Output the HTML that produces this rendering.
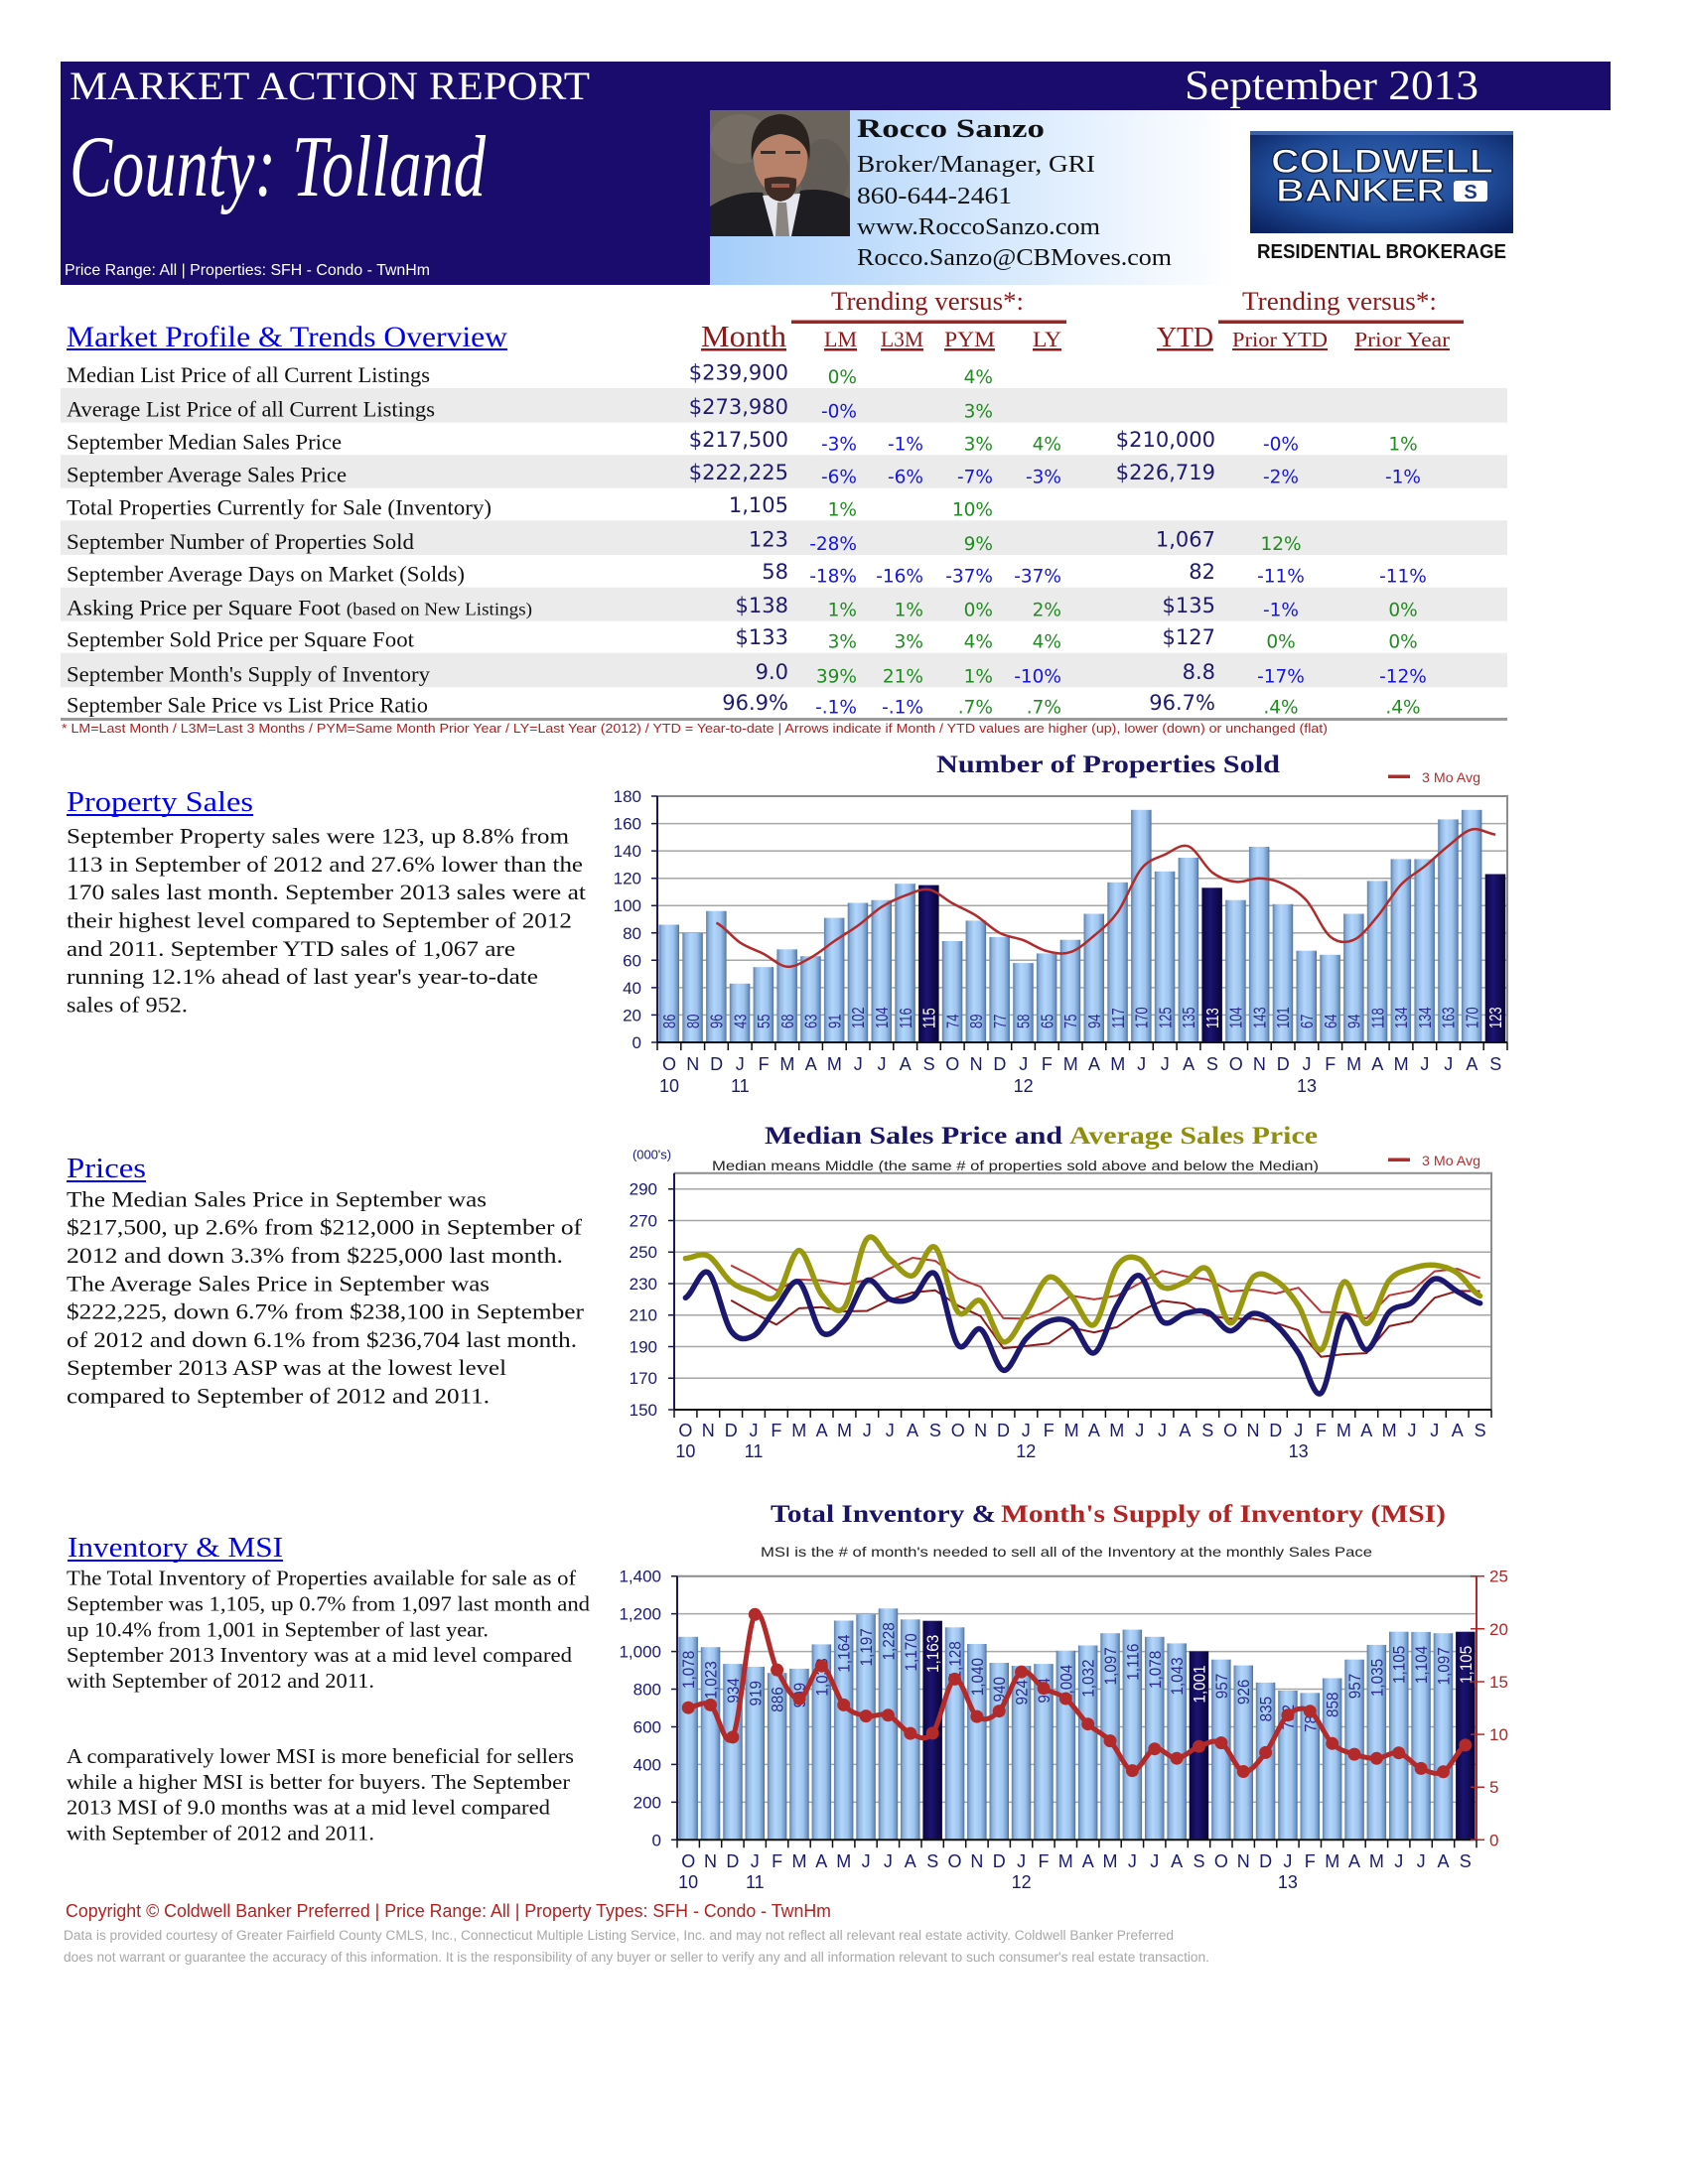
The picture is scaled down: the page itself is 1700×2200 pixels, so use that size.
<!DOCTYPE html>
<html><head><meta charset="utf-8"><title>Market Action Report - Tolland</title>
<style>
html,body{margin:0;padding:0;background:#fff;}
svg{display:block;}
.s{font-family:"Liberation Serif",serif;}
.a{font-family:"Liberation Sans",sans-serif;}
.d{font-family:"DejaVu Sans","Liberation Sans",sans-serif;}
</style></head>
<body>
<svg width="1700" height="2200" viewBox="0 0 1700 2200" xmlns="http://www.w3.org/2000/svg">
<defs>
<linearGradient id="bl" x1="0" x2="1" y1="0" y2="0">
<stop offset="0" stop-color="#5b7fa9"/><stop offset="0.15" stop-color="#8fb5e0"/><stop offset="0.4" stop-color="#b2d6fb"/><stop offset="0.7" stop-color="#9fc4ee"/><stop offset="0.9" stop-color="#7097c6"/><stop offset="1" stop-color="#4d6e98"/>
</linearGradient>
<linearGradient id="bd" x1="0" x2="1" y1="0" y2="0">
<stop offset="0" stop-color="#0a0640"/><stop offset="0.4" stop-color="#1c1474"/><stop offset="1" stop-color="#080434"/>
</linearGradient>
<linearGradient id="card" x1="715" x2="1245" y1="0" y2="0" gradientUnits="userSpaceOnUse">
<stop offset="0" stop-color="#a4cdfa"/><stop offset="1" stop-color="#ffffff"/>
</linearGradient>
<radialGradient id="cb" cx="0.5" cy="0.45" r="0.7">
<stop offset="0" stop-color="#3a6cba"/><stop offset="0.6" stop-color="#1f4a96"/><stop offset="1" stop-color="#0b2260"/>
</radialGradient>
<clipPath id="ph"><rect x="715" y="111" width="141" height="127"/></clipPath>
</defs>
<rect width="1700" height="2200" fill="#fff"/>

<!-- HEADER -->
<rect x="61" y="62" width="1561" height="49" fill="#1a0c6c"/>
<rect x="61" y="62" width="654" height="225" fill="#1a0c6c"/>
<rect x="715" y="111" width="530" height="176" fill="url(#card)"/>
<text class="s" x="70" y="100" font-size="40" fill="#fff" textLength="524" lengthAdjust="spacingAndGlyphs">MARKET ACTION REPORT</text>
<text class="s" x="1193" y="100" font-size="42" fill="#fff" textLength="296" lengthAdjust="spacingAndGlyphs">September 2013</text>
<text class="s" x="70" y="197" font-size="88" font-style="italic" fill="#fff" textLength="419" lengthAdjust="spacingAndGlyphs">County: Tolland</text>
<text class="a" x="65" y="277" font-size="16" fill="#fff" textLength="368" lengthAdjust="spacingAndGlyphs">Price Range:  All | Properties:  SFH - Condo - TwnHm</text>

<!-- photo -->
<g clip-path="url(#ph)">
<rect x="715" y="111" width="141" height="127" fill="#6b645c"/>
<ellipse cx="745" cy="140" rx="30" ry="25" fill="#7a7268" opacity="0.7"/>
<ellipse cx="830" cy="175" rx="25" ry="35" fill="#5d5852" opacity="0.7"/>
<path d="M715,238 L715,208 Q740,192 768,194 L784,238 Z" fill="#1d1d22"/>
<path d="M856,238 L856,200 Q832,188 806,192 L792,238 Z" fill="#1d1d22"/>
<rect x="774" y="185" width="24" height="18" fill="#a8735a"/>
<polygon points="768,197 806,195 797,238 779,238" fill="#e6e6ee"/>
<polygon points="783,204 792,204 795,238 781,238" fill="#8a8580"/>
<ellipse cx="786" cy="160" rx="27" ry="36" fill="#b8826a"/>
<path d="M757,162 Q753,117 786,115 Q820,117 815,162 Q812,138 786,135 Q762,138 757,162 Z" fill="#2a221e"/>
<path d="M770,180 Q786,176 802,180 Q804,200 786,203 Q768,200 770,180 Z" fill="#3e2c25"/>
<rect x="766" y="152" width="15" height="3" fill="#3a2a24"/>
<rect x="791" y="152" width="15" height="3" fill="#3a2a24"/>
<rect x="777" y="185" width="18" height="4" fill="#9a5a4a"/>
</g>

<text class="s" x="863" y="138" font-size="26" font-weight="bold" fill="#111" textLength="189" lengthAdjust="spacingAndGlyphs">Rocco Sanzo</text>
<text class="s" x="863" y="173" font-size="24" fill="#111" textLength="240" lengthAdjust="spacingAndGlyphs">Broker/Manager, GRI</text>
<text class="s" x="863" y="205" font-size="24" fill="#111" textLength="156" lengthAdjust="spacingAndGlyphs">860-644-2461</text>
<text class="s" x="863" y="236" font-size="24" fill="#111" textLength="245" lengthAdjust="spacingAndGlyphs">www.RoccoSanzo.com</text>
<text class="s" x="863" y="267" font-size="24" fill="#111" textLength="317" lengthAdjust="spacingAndGlyphs">Rocco.Sanzo@CBMoves.com</text>

<!-- logo -->
<rect x="1259" y="132" width="265" height="103" fill="url(#cb)"/>
<rect x="1259" y="132" width="265" height="4" fill="#5a84c8" opacity="0.6"/>
<text class="a" x="1280" y="174" font-size="34" font-weight="bold" fill="#fff" stroke="#0a1a40" stroke-width="1.2" textLength="224" lengthAdjust="spacingAndGlyphs">COLDWELL</text>
<text class="a" x="1285" y="203" font-size="32" font-weight="bold" fill="#fff" stroke="#0a1a40" stroke-width="1.2" textLength="170" lengthAdjust="spacingAndGlyphs">BANKER</text>
<rect x="1464" y="182" width="34" height="21" rx="3" fill="#fff"/>
<text class="a" x="1481" y="200" font-size="20" font-weight="bold" fill="#1a3a80" text-anchor="middle">S</text>
<text class="a" x="1266" y="260" font-size="20" font-weight="bold" fill="#111" textLength="251" lengthAdjust="spacingAndGlyphs">RESIDENTIAL BROKERAGE</text>

<!-- TABLE -->
<text class="s" x="837" y="312" font-size="26" fill="#8b1a1a" textLength="194" lengthAdjust="spacingAndGlyphs">Trending versus*:</text>
<text class="s" x="1251" y="312" font-size="26" fill="#8b1a1a" textLength="196" lengthAdjust="spacingAndGlyphs">Trending versus*:</text>
<rect x="797" y="322.5" width="277" height="3.5" fill="#9b2525"/>
<rect x="1227" y="322.5" width="247" height="3.5" fill="#9b2525"/>

<text class="s" x="67" y="349" font-size="30" fill="#0000ee" textLength="444" lengthAdjust="spacingAndGlyphs">Market Profile &amp; Trends Overview</text>
<rect x="67" y="351" width="444" height="2" fill="#0000ee"/>
<g class="s" fill="#8b1a1a">
<text x="706" y="349" font-size="31" textLength="86" lengthAdjust="spacingAndGlyphs">Month</text>
<text x="830" y="349" font-size="22" textLength="33" lengthAdjust="spacingAndGlyphs">LM</text>
<text x="887" y="349" font-size="22" textLength="43" lengthAdjust="spacingAndGlyphs">L3M</text>
<text x="951" y="349" font-size="22" textLength="51" lengthAdjust="spacingAndGlyphs">PYM</text>
<text x="1040" y="349" font-size="22" textLength="29" lengthAdjust="spacingAndGlyphs">LY</text>
<text x="1165" y="349" font-size="29" textLength="57" lengthAdjust="spacingAndGlyphs">YTD</text>
<text x="1241" y="349" font-size="21" textLength="96" lengthAdjust="spacingAndGlyphs">Prior YTD</text>
<text x="1364" y="349" font-size="21" textLength="96" lengthAdjust="spacingAndGlyphs">Prior Year</text>
</g>
<g fill="#8b1a1a">
<rect x="706" y="351" width="86" height="2.5"/>
<rect x="830" y="351" width="33" height="2.5"/>
<rect x="887" y="351" width="43" height="2.5"/>
<rect x="951" y="351" width="51" height="2.5"/>
<rect x="1040" y="351" width="29" height="2.5"/>
<rect x="1165" y="351" width="57" height="2.5"/>
<rect x="1241" y="351" width="96" height="2"/>
<rect x="1364" y="351" width="96" height="2"/>
</g>

<g fill="#ebebeb">
<rect x="61" y="391" width="1457" height="34.7"/>
<rect x="61" y="458.3" width="1457" height="33.4"/>
<rect x="61" y="524.3" width="1457" height="34.7"/>
<rect x="61" y="591.7" width="1457" height="34"/>
<rect x="61" y="657.7" width="1457" height="34.6"/>
</g>
<rect x="61" y="723" width="1457" height="3" fill="#9a9a9a"/>

<g class="s" font-size="22" fill="#111">
<text x="67" y="385" textLength="366" lengthAdjust="spacingAndGlyphs">Median List Price of all Current Listings</text>
<text x="67" y="419.7" textLength="371" lengthAdjust="spacingAndGlyphs">Average List Price of all Current Listings</text>
<text x="67" y="452.3" textLength="277" lengthAdjust="spacingAndGlyphs">September Median Sales Price</text>
<text x="67" y="485.7" textLength="282" lengthAdjust="spacingAndGlyphs">September Average Sales Price</text>
<text x="67" y="518.3" textLength="428" lengthAdjust="spacingAndGlyphs">Total Properties Currently for Sale (Inventory)</text>
<text x="67" y="553" textLength="350" lengthAdjust="spacingAndGlyphs">September Number of Properties Sold</text>
<text x="67" y="585.7" textLength="401" lengthAdjust="spacingAndGlyphs">September Average Days on Market (Solds)</text>
<text x="67" y="619.7" textLength="469" lengthAdjust="spacingAndGlyphs">Asking Price per Square Foot <tspan font-size="18">(based on New Listings)</tspan></text>
<text x="67" y="651.7" textLength="350" lengthAdjust="spacingAndGlyphs">September Sold Price per Square Foot</text>
<text x="67" y="686.3" textLength="366" lengthAdjust="spacingAndGlyphs">September Month's Supply of Inventory</text>
<text x="67" y="717.3" textLength="364" lengthAdjust="spacingAndGlyphs">September Sale Price vs List Price Ratio</text>
</g>

<g class="d" font-size="21" fill="#1e1a6e" text-anchor="end">
<text x="794" y="382.5">$239,900</text>
<text x="794" y="417.2">$273,980</text>
<text x="794" y="449.8">$217,500</text>
<text x="794" y="483.2">$222,225</text>
<text x="794" y="515.8">1,105</text>
<text x="794" y="550.5">123</text>
<text x="794" y="583.2">58</text>
<text x="794" y="617.2">$138</text>
<text x="794" y="649.2">$133</text>
<text x="794" y="683.8">9.0</text>
<text x="794" y="714.8">96.9%</text>
<text x="1224" y="449.8">$210,000</text>
<text x="1224" y="483.2">$226,719</text>
<text x="1224" y="550.5">1,067</text>
<text x="1224" y="583.2">82</text>
<text x="1224" y="617.2">$135</text>
<text x="1224" y="649.2">$127</text>
<text x="1224" y="683.8">8.8</text>
<text x="1224" y="714.8">96.7%</text>
</g>

<g class="d" font-size="18.5" text-anchor="end">
<text x="863" y="386" fill="#1f8c1f">0%</text>
<text x="863" y="420.7" fill="#1515e6">-0%</text>
<text x="863" y="453.3" fill="#1515e6">-3%</text>
<text x="863" y="486.7" fill="#1515e6">-6%</text>
<text x="863" y="519.3" fill="#1f8c1f">1%</text>
<text x="863" y="554" fill="#1515e6">-28%</text>
<text x="863" y="586.7" fill="#1515e6">-18%</text>
<text x="863" y="620.7" fill="#1f8c1f">1%</text>
<text x="863" y="652.7" fill="#1f8c1f">3%</text>
<text x="863" y="687.3" fill="#1f8c1f">39%</text>
<text x="863" y="718.3" fill="#1515e6">-.1%</text>
<text x="930" y="453.3" fill="#1515e6">-1%</text>
<text x="930" y="486.7" fill="#1515e6">-6%</text>
<text x="930" y="586.7" fill="#1515e6">-16%</text>
<text x="930" y="620.7" fill="#1f8c1f">1%</text>
<text x="930" y="652.7" fill="#1f8c1f">3%</text>
<text x="930" y="687.3" fill="#1f8c1f">21%</text>
<text x="930" y="718.3" fill="#1515e6">-.1%</text>
<text x="1000" y="386" fill="#1f8c1f">4%</text>
<text x="1000" y="420.7" fill="#1f8c1f">3%</text>
<text x="1000" y="453.3" fill="#1f8c1f">3%</text>
<text x="1000" y="486.7" fill="#1515e6">-7%</text>
<text x="1000" y="519.3" fill="#1f8c1f">10%</text>
<text x="1000" y="554" fill="#1f8c1f">9%</text>
<text x="1000" y="586.7" fill="#1515e6">-37%</text>
<text x="1000" y="620.7" fill="#1f8c1f">0%</text>
<text x="1000" y="652.7" fill="#1f8c1f">4%</text>
<text x="1000" y="687.3" fill="#1f8c1f">1%</text>
<text x="1000" y="718.3" fill="#1f8c1f">.7%</text>
<text x="1069" y="453.3" fill="#1f8c1f">4%</text>
<text x="1069" y="486.7" fill="#1515e6">-3%</text>
<text x="1069" y="586.7" fill="#1515e6">-37%</text>
<text x="1069" y="620.7" fill="#1f8c1f">2%</text>
<text x="1069" y="652.7" fill="#1f8c1f">4%</text>
<text x="1069" y="687.3" fill="#1515e6">-10%</text>
<text x="1069" y="718.3" fill="#1f8c1f">.7%</text>
</g>
<g class="d" font-size="18.5" text-anchor="middle">
<text x="1290" y="453.3" fill="#1515e6">-0%</text>
<text x="1290" y="486.7" fill="#1515e6">-2%</text>
<text x="1290" y="554" fill="#1f8c1f">12%</text>
<text x="1290" y="586.7" fill="#1515e6">-11%</text>
<text x="1290" y="620.7" fill="#1515e6">-1%</text>
<text x="1290" y="652.7" fill="#1f8c1f">0%</text>
<text x="1290" y="687.3" fill="#1515e6">-17%</text>
<text x="1290" y="718.3" fill="#1f8c1f">.4%</text>
<text x="1413" y="453.3" fill="#1f8c1f">1%</text>
<text x="1413" y="486.7" fill="#1515e6">-1%</text>
<text x="1413" y="586.7" fill="#1515e6">-11%</text>
<text x="1413" y="620.7" fill="#1f8c1f">0%</text>
<text x="1413" y="652.7" fill="#1f8c1f">0%</text>
<text x="1413" y="687.3" fill="#1515e6">-12%</text>
<text x="1413" y="718.3" fill="#1f8c1f">.4%</text>
</g>
<text class="a" x="62" y="738" font-size="13" fill="#b02020" textLength="1275" lengthAdjust="spacingAndGlyphs">* LM=Last Month / L3M=Last 3 Months / PYM=Same Month Prior Year / LY=Last Year (2012) / YTD = Year-to-date  |  Arrows indicate if Month / YTD values are higher (up), lower (down) or unchanged (flat)</text>

<!-- LEFT TEXT -->
<text class="s" x="67" y="817" font-size="28" fill="#0000ee" textLength="188" lengthAdjust="spacingAndGlyphs">Property Sales</text>
<rect x="67" y="820" width="188" height="2" fill="#0000ee"/>
<g class="s" font-size="22" fill="#111">
<text x="67" y="849.6" textLength="506" lengthAdjust="spacingAndGlyphs">September Property sales were 123, up 8.8% from</text>
<text x="67" y="877.9" textLength="520" lengthAdjust="spacingAndGlyphs">113 in September of 2012 and 27.6% lower than the</text>
<text x="67" y="906.2" textLength="523" lengthAdjust="spacingAndGlyphs">170 sales last month.  September 2013 sales were at</text>
<text x="67" y="934.5" textLength="509" lengthAdjust="spacingAndGlyphs">their highest level compared to September of 2012</text>
<text x="67" y="962.8" textLength="452" lengthAdjust="spacingAndGlyphs">and 2011.  September YTD sales of 1,067 are</text>
<text x="67" y="991.1" textLength="475" lengthAdjust="spacingAndGlyphs">running 12.1% ahead of last year's year-to-date</text>
<text x="67" y="1019.4" textLength="122" lengthAdjust="spacingAndGlyphs">sales of 952.</text>
</g>

<text class="s" x="67" y="1186" font-size="28" fill="#0000ee" textLength="80" lengthAdjust="spacingAndGlyphs">Prices</text>
<rect x="67" y="1189" width="80" height="2" fill="#0000ee"/>
<g class="s" font-size="22" fill="#111">
<text x="67" y="1215.4" textLength="423" lengthAdjust="spacingAndGlyphs">The Median Sales Price in September was</text>
<text x="67" y="1243.7" textLength="519" lengthAdjust="spacingAndGlyphs">$217,500, up 2.6% from $212,000 in September of</text>
<text x="67" y="1272" textLength="500" lengthAdjust="spacingAndGlyphs">2012  and down 3.3% from $225,000 last month.</text>
<text x="67" y="1300.3" textLength="426" lengthAdjust="spacingAndGlyphs">The Average Sales Price in September was</text>
<text x="67" y="1328.6" textLength="521" lengthAdjust="spacingAndGlyphs">$222,225, down 6.7% from $238,100 in September</text>
<text x="67" y="1356.9" textLength="514" lengthAdjust="spacingAndGlyphs">of 2012 and down 6.1% from $236,704 last month.</text>
<text x="67" y="1385.2" textLength="443" lengthAdjust="spacingAndGlyphs">September 2013 ASP was at the lowest level</text>
<text x="67" y="1413.5" textLength="426" lengthAdjust="spacingAndGlyphs">compared to September of 2012 and 2011.</text>
</g>

<text class="s" x="68" y="1568" font-size="28" fill="#0000ee" textLength="217" lengthAdjust="spacingAndGlyphs">Inventory &amp; MSI</text>
<rect x="68" y="1571" width="217" height="2" fill="#0000ee"/>
<g class="s" font-size="21" fill="#111">
<text x="67" y="1596.7" textLength="513" lengthAdjust="spacingAndGlyphs">The Total Inventory of Properties available for sale as of</text>
<text x="67" y="1622.5" textLength="527" lengthAdjust="spacingAndGlyphs">September was 1,105, up 0.7% from 1,097 last month and</text>
<text x="67" y="1648.3" textLength="425" lengthAdjust="spacingAndGlyphs">up 10.4% from 1,001 in September of last year.</text>
<text x="67" y="1674.1" textLength="509" lengthAdjust="spacingAndGlyphs">September 2013 Inventory was at a mid level compared</text>
<text x="67" y="1699.9" textLength="310" lengthAdjust="spacingAndGlyphs">with September of 2012 and 2011.</text>
<text x="67" y="1776" textLength="511" lengthAdjust="spacingAndGlyphs">A comparatively lower MSI is more beneficial for sellers</text>
<text x="67" y="1801.8" textLength="507" lengthAdjust="spacingAndGlyphs">while a higher MSI is better for buyers.  The September</text>
<text x="67" y="1827.6" textLength="487" lengthAdjust="spacingAndGlyphs">2013 MSI of 9.0 months was at a mid level compared</text>
<text x="67" y="1853.4" textLength="310" lengthAdjust="spacingAndGlyphs">with September of 2012 and 2011.</text>
</g>

<!-- FOOTER -->
<text class="a" x="66" y="1931" font-size="18" fill="#b52020" textLength="771" lengthAdjust="spacingAndGlyphs">Copyright © Coldwell Banker Preferred  |  Price Range:  All  |  Property Types:  SFH - Condo - TwnHm</text>
<text class="a" x="64" y="1954" font-size="13.5" fill="#a8a8a8" textLength="1118" lengthAdjust="spacingAndGlyphs">Data is provided courtesy of Greater Fairfield County CMLS, Inc., Connecticut Multiple Listing Service, Inc. and may not reflect all relevant real estate activity.  Coldwell Banker Preferred</text>
<text class="a" x="64" y="1976" font-size="13.5" fill="#a8a8a8" textLength="1154" lengthAdjust="spacingAndGlyphs">does not warrant or guarantee the accuracy of this information.  It is the responsibility of any buyer or seller to verify any and all information relevant to such consumer's real estate transaction.</text>

<!-- ===== CHART 1 ===== -->
<text class="s" x="943" y="778" font-size="25" font-weight="bold" fill="#1a1466" textLength="346" lengthAdjust="spacingAndGlyphs">Number of Properties Sold</text>
<rect x="1398" y="780.5" width="22" height="3.5" fill="#b22a2a"/>
<text class="a" x="1432" y="788" font-size="14" fill="#b03030" textLength="59" lengthAdjust="spacingAndGlyphs">3 Mo Avg</text>
<g stroke="#a6a6a6" stroke-width="1.5">
<line x1="662" y1="1022.4" x2="1518" y2="1022.4"/><line x1="662" y1="994.9" x2="1518" y2="994.9"/><line x1="662" y1="967.3" x2="1518" y2="967.3"/><line x1="662" y1="939.8" x2="1518" y2="939.8"/><line x1="662" y1="912.2" x2="1518" y2="912.2"/><line x1="662" y1="884.7" x2="1518" y2="884.7"/><line x1="662" y1="857.1" x2="1518" y2="857.1"/><line x1="662" y1="829.6" x2="1518" y2="829.6"/>
</g>
<path d="M662,802 H1518 V1050" fill="none" stroke="#8c8c8c" stroke-width="2"/>
<g fill="url(#bl)">
<rect x="663.5" y="931.5" width="20.5" height="118.5"/><rect x="687.3" y="939.8" width="20.5" height="110.2"/><rect x="711.1" y="917.7" width="20.5" height="132.3"/><rect x="734.8" y="990.8" width="20.5" height="59.2"/><rect x="758.6" y="974.2" width="20.5" height="75.8"/><rect x="782.4" y="956.3" width="20.5" height="93.7"/><rect x="806.2" y="963.2" width="20.5" height="86.8"/><rect x="829.9" y="924.6" width="20.5" height="125.4"/><rect x="853.7" y="909.5" width="20.5" height="140.5"/><rect x="877.5" y="906.7" width="20.5" height="143.3"/><rect x="901.3" y="890.2" width="20.5" height="159.8"/>
<rect x="948.8" y="948" width="20.5" height="102"/><rect x="972.6" y="927.4" width="20.5" height="122.6"/><rect x="996.4" y="943.9" width="20.5" height="106.1"/><rect x="1020.2" y="970.1" width="20.5" height="79.9"/><rect x="1043.9" y="960.4" width="20.5" height="89.6"/><rect x="1067.7" y="946.7" width="20.5" height="103.3"/><rect x="1091.5" y="920.5" width="20.5" height="129.5"/><rect x="1115.3" y="888.8" width="20.5" height="161.2"/><rect x="1139.1" y="815.8" width="20.5" height="234.2"/><rect x="1162.8" y="877.8" width="20.5" height="172.2"/><rect x="1186.6" y="864" width="20.5" height="186"/>
<rect x="1234.2" y="906.7" width="20.5" height="143.3"/><rect x="1257.9" y="853" width="20.5" height="197"/><rect x="1281.7" y="910.8" width="20.5" height="139.2"/><rect x="1305.5" y="957.7" width="20.5" height="92.3"/><rect x="1329.3" y="961.8" width="20.5" height="88.2"/><rect x="1353.1" y="920.5" width="20.5" height="129.5"/><rect x="1376.8" y="887.4" width="20.5" height="162.6"/><rect x="1400.6" y="865.4" width="20.5" height="184.6"/><rect x="1424.4" y="865.4" width="20.5" height="184.6"/><rect x="1448.2" y="825.4" width="20.5" height="224.6"/><rect x="1471.9" y="815.8" width="20.5" height="234.2"/>
</g>
<g fill="url(#bd)">
<rect x="925.1" y="891.6" width="20.5" height="158.4"/><rect x="1210.4" y="894.3" width="20.5" height="155.7"/><rect x="1495.7" y="880.5" width="20.5" height="169.5"/>
</g>
<g class="a" font-size="18" fill="#2a2a8a">
<text transform="translate(680,1036) rotate(-90) scale(0.72,1)">86</text>
<text transform="translate(703.8,1036) rotate(-90) scale(0.72,1)">80</text>
<text transform="translate(727.6,1036) rotate(-90) scale(0.72,1)">96</text>
<text transform="translate(751.3,1036) rotate(-90) scale(0.72,1)">43</text>
<text transform="translate(775.1,1036) rotate(-90) scale(0.72,1)">55</text>
<text transform="translate(798.9,1036) rotate(-90) scale(0.72,1)">68</text>
<text transform="translate(822.7,1036) rotate(-90) scale(0.72,1)">63</text>
<text transform="translate(846.4,1036) rotate(-90) scale(0.72,1)">91</text>
<text transform="translate(870.2,1036) rotate(-90) scale(0.72,1)">102</text>
<text transform="translate(894,1036) rotate(-90) scale(0.72,1)">104</text>
<text transform="translate(917.8,1036) rotate(-90) scale(0.72,1)">116</text>
<text transform="translate(941.6,1036) rotate(-90) scale(0.72,1)" fill="#fff">115</text>
<text transform="translate(965.3,1036) rotate(-90) scale(0.72,1)">74</text>
<text transform="translate(989.1,1036) rotate(-90) scale(0.72,1)">89</text>
<text transform="translate(1012.9,1036) rotate(-90) scale(0.72,1)">77</text>
<text transform="translate(1036.7,1036) rotate(-90) scale(0.72,1)">58</text>
<text transform="translate(1060.4,1036) rotate(-90) scale(0.72,1)">65</text>
<text transform="translate(1084.2,1036) rotate(-90) scale(0.72,1)">75</text>
<text transform="translate(1108,1036) rotate(-90) scale(0.72,1)">94</text>
<text transform="translate(1131.8,1036) rotate(-90) scale(0.72,1)">117</text>
<text transform="translate(1155.6,1036) rotate(-90) scale(0.72,1)">170</text>
<text transform="translate(1179.3,1036) rotate(-90) scale(0.72,1)">125</text>
<text transform="translate(1203.1,1036) rotate(-90) scale(0.72,1)">135</text>
<text transform="translate(1226.9,1036) rotate(-90) scale(0.72,1)" fill="#fff">113</text>
<text transform="translate(1250.7,1036) rotate(-90) scale(0.72,1)">104</text>
<text transform="translate(1274.4,1036) rotate(-90) scale(0.72,1)">143</text>
<text transform="translate(1298.2,1036) rotate(-90) scale(0.72,1)">101</text>
<text transform="translate(1322,1036) rotate(-90) scale(0.72,1)">67</text>
<text transform="translate(1345.8,1036) rotate(-90) scale(0.72,1)">64</text>
<text transform="translate(1369.6,1036) rotate(-90) scale(0.72,1)">94</text>
<text transform="translate(1393.3,1036) rotate(-90) scale(0.72,1)">118</text>
<text transform="translate(1417.1,1036) rotate(-90) scale(0.72,1)">134</text>
<text transform="translate(1440.9,1036) rotate(-90) scale(0.72,1)">134</text>
<text transform="translate(1464.7,1036) rotate(-90) scale(0.72,1)">163</text>
<text transform="translate(1488.4,1036) rotate(-90) scale(0.72,1)">170</text>
<text transform="translate(1512.2,1036) rotate(-90) scale(0.72,1)" fill="#fff">123</text>
</g>
<path d="M721.4,929.7 C729.3,933.0 737.3,944.2 745.2,949.4 C753.1,954.6 761.1,956.8 769.0,960.9 C776.9,965.0 784.9,973.2 792.8,973.8 C800.7,974.4 808.7,968.9 816.6,964.6 C824.5,960.3 832.4,953.4 840.3,948.0 C848.2,942.6 856.2,938.1 864.1,932.4 C872.0,926.7 880.0,918.7 887.9,913.6 C895.8,908.6 903.8,905.0 911.7,902.1 C919.6,899.2 927.6,894.8 935.5,896.1 C943.4,897.4 951.3,905.5 959.2,909.9 C967.1,914.3 975.1,917.3 983.0,922.3 C990.9,927.3 998.9,935.7 1006.8,939.8 C1014.7,943.9 1022.7,944.1 1030.6,947.1 C1038.5,950.2 1046.4,956.1 1054.3,958.1 C1062.2,960.1 1070.2,961.7 1078.1,959.1 C1086.0,956.5 1094.0,949.2 1101.9,942.5 C1109.8,935.8 1117.8,930.0 1125.7,918.7 C1133.6,907.5 1141.6,884.7 1149.5,875.0 C1157.4,865.4 1165.3,864.6 1173.2,860.8 C1181.1,857.1 1189.1,849.5 1197.0,852.5 C1204.9,855.5 1212.9,872.7 1220.8,878.7 C1228.7,884.7 1236.7,887.3 1244.6,888.3 C1252.5,889.3 1260.4,884.4 1268.3,884.7 C1276.2,885.0 1284.2,886.5 1292.1,890.2 C1300.0,894.0 1308.0,898.3 1315.9,907.2 C1323.8,916.1 1331.8,936.9 1339.7,943.5 C1347.6,950.1 1355.6,950.1 1363.5,946.7 C1371.4,943.3 1379.3,932.5 1387.2,923.2 C1395.1,913.9 1403.1,899.5 1411.0,891.1 C1418.9,882.7 1426.9,879.2 1434.8,872.7 C1442.7,866.2 1450.7,858.3 1458.6,852.1 C1466.5,845.9 1474.4,837.4 1482.3,835.5 C1490.2,833.6 1498.2,839.8 1506.1,840.6" fill="none" stroke="#b22a2a" stroke-width="2.5"/>
<line x1="662" y1="802" x2="662" y2="1050" stroke="#1a1a50" stroke-width="2"/>
<line x1="662" y1="1050" x2="1518" y2="1050" stroke="#111" stroke-width="2"/>
<path d="M656,802h6M656,829.6h6M656,857.1h6M656,884.7h6M656,912.2h6M656,939.8h6M656,967.3h6M656,994.9h6M656,1022.4h6M656,1050h6" stroke="#1a1a50" stroke-width="1.5"/>
<path d="M662,1050v8M685.8,1050v8M709.6,1050v8M733.3,1050v8M757.1,1050v8M780.9,1050v8M804.7,1050v8M828.4,1050v8M852.2,1050v8M876,1050v8M899.8,1050v8M923.6,1050v8M947.3,1050v8M971.1,1050v8M994.9,1050v8M1018.7,1050v8M1042.4,1050v8M1066.2,1050v8M1090,1050v8M1113.8,1050v8M1137.6,1050v8M1161.3,1050v8M1185.1,1050v8M1208.9,1050v8M1232.7,1050v8M1256.5,1050v8M1280.2,1050v8M1304,1050v8M1327.8,1050v8M1351.6,1050v8M1375.3,1050v8M1399.1,1050v8M1422.9,1050v8M1446.7,1050v8M1470.5,1050v8M1494.2,1050v8M1518,1050v8" stroke="#111" stroke-width="1.5"/>
<g class="a" font-size="17" fill="#1a1a6e" text-anchor="end">
<text x="646" y="808">180</text><text x="646" y="835.6">160</text><text x="646" y="863.1">140</text><text x="646" y="890.7">120</text><text x="646" y="918.2">100</text><text x="646" y="945.8">80</text><text x="646" y="973.3">60</text><text x="646" y="1000.9">40</text><text x="646" y="1028.4">20</text><text x="646" y="1056">0</text>
</g>
<g class="a" font-size="18" fill="#1a1a6e" text-anchor="middle">
<text x="674.0 697.8 721.6 745.3 769.1 792.9 816.7 840.4 864.2 888.0 911.8 935.6 959.3 983.1 1006.9 1030.7 1054.4 1078.2 1102.0 1125.8 1149.6 1173.3 1197.1 1220.9 1244.7 1268.4 1292.2 1316.0 1339.8 1363.6 1387.3 1411.1 1434.9 1458.7 1482.4 1506.2" y="1078">ONDJFMAMJJASONDJFMAMJJASONDJFMAMJJAS</text>
<text x="674" y="1100">10</text><text x="745.3" y="1100">11</text><text x="1030.7" y="1100">12</text><text x="1316" y="1100">13</text>
</g>

<!-- ===== CHART 2 ===== -->
<text class="s" x="770" y="1152" font-size="25" font-weight="bold" fill="#1a1466" textLength="300" lengthAdjust="spacingAndGlyphs">Median Sales Price and</text>
<text class="s" x="1077" y="1152" font-size="25" font-weight="bold" fill="#8f8f0c" textLength="250" lengthAdjust="spacingAndGlyphs">Average Sales Price</text>
<text class="a" x="637" y="1167.7" font-size="13" fill="#1a1a6e" textLength="39" lengthAdjust="spacingAndGlyphs">(000's)</text>
<text class="a" x="717" y="1179" font-size="14" fill="#222" textLength="611" lengthAdjust="spacingAndGlyphs">Median means Middle (the same # of properties sold above and below the Median)</text>
<rect x="1398" y="1166.5" width="22" height="3.5" fill="#b22a2a"/>
<text class="a" x="1432" y="1174" font-size="14" fill="#b03030" textLength="59" lengthAdjust="spacingAndGlyphs">3 Mo Avg</text>
<g stroke="#a6a6a6" stroke-width="1.5">
<line x1="679" y1="1197.7" x2="1502" y2="1197.7"/><line x1="679" y1="1229.5" x2="1502" y2="1229.5"/><line x1="679" y1="1261.2" x2="1502" y2="1261.2"/><line x1="679" y1="1293" x2="1502" y2="1293"/><line x1="679" y1="1324.7" x2="1502" y2="1324.7"/><line x1="679" y1="1356.5" x2="1502" y2="1356.5"/><line x1="679" y1="1388.2" x2="1502" y2="1388.2"/>
</g>
<path d="M679,1181.8 H1502 V1420" fill="none" stroke="#8c8c8c" stroke-width="2"/>
<polyline points="736.2,1274.7 759.0,1286.1 781.9,1299.6 804.7,1289.0 827.6,1289.8 850.5,1293.5 873.3,1289.5 896.2,1277.6 919.0,1267.0 941.9,1270.0 964.8,1287.7 987.6,1296.2 1010.5,1327.9 1033.3,1328.4 1056.2,1320.5 1079.1,1305.1 1101.9,1308.9 1124.8,1305.2 1147.7,1292.7 1170.5,1280.2 1193.4,1285.5 1216.2,1288.9 1239.1,1300.9 1262.0,1299.3 1284.8,1303.0 1307.7,1297.2 1330.5,1321.6 1353.4,1322.1 1376.3,1328.1 1399.1,1304.8 1422.0,1300.3 1444.8,1280.6 1467.7,1278.1 1490.6,1287.4" fill="none" stroke="#bb3636" stroke-width="2" stroke-linejoin="round"/>
<polyline points="736.2,1309.9 759.0,1322.6 781.9,1334.3 804.7,1317.9 827.6,1316.8 850.5,1321.0 873.3,1320.5 896.2,1309.4 919.0,1302.0 941.9,1299.8 964.8,1315.2 987.6,1325.8 1010.5,1358.1 1033.3,1355.9 1056.2,1353.3 1079.1,1337.4 1101.9,1342.2 1124.8,1336.9 1147.7,1321.0 1170.5,1310.4 1193.4,1313.1 1216.2,1325.3 1239.1,1328.4 1262.0,1328.4 1284.8,1332.7 1307.7,1340.1 1330.5,1366.8 1353.4,1364.1 1376.3,1363.1 1399.1,1335.9 1422.0,1331.1 1444.8,1307.3 1467.7,1300.4 1490.6,1300.6" fill="none" stroke="#8b1a1a" stroke-width="2" stroke-linejoin="round"/>
<path d="M690.4,1267.6 C698.0,1267.2 705.7,1261.2 713.3,1265.2 C720.9,1269.2 728.6,1285.3 736.2,1291.4 C743.8,1297.5 751.4,1299.3 759.0,1301.7 C766.6,1304.1 774.3,1312.7 781.9,1305.7 C789.5,1298.7 797.1,1259.9 804.7,1259.6 C812.3,1259.3 820.0,1294.6 827.6,1304.1 C835.2,1313.6 842.9,1326.2 850.5,1316.8 C858.1,1307.4 865.7,1255.8 873.3,1247.7 C880.9,1239.6 888.6,1262.2 896.2,1268.4 C903.8,1274.6 911.4,1287.0 919.0,1285.0 C926.6,1283.0 934.3,1250.4 941.9,1256.5 C949.5,1262.6 957.2,1312.6 964.8,1321.6 C972.4,1330.6 980.0,1305.4 987.6,1310.4 C995.2,1315.4 1002.9,1349.6 1010.5,1351.7 C1018.1,1353.8 1025.7,1334.0 1033.3,1323.1 C1040.9,1312.3 1048.6,1289.5 1056.2,1286.6 C1063.8,1283.7 1071.5,1297.8 1079.1,1305.7 C1086.7,1313.7 1094.3,1339.3 1101.9,1334.3 C1109.5,1329.3 1117.2,1286.5 1124.8,1275.5 C1132.4,1264.5 1140.1,1264.9 1147.7,1268.4 C1155.3,1271.9 1162.9,1292.8 1170.5,1296.6 C1178.1,1300.4 1185.8,1294.4 1193.4,1291.4 C1201.0,1288.4 1208.6,1271.8 1216.2,1278.7 C1223.8,1285.6 1231.5,1331.4 1239.1,1332.7 C1246.7,1334.0 1254.4,1293.8 1262.0,1286.6 C1269.6,1279.5 1277.2,1285.0 1284.8,1289.8 C1292.4,1294.6 1300.1,1303.6 1307.7,1315.2 C1315.3,1326.9 1322.9,1363.7 1330.5,1359.7 C1338.1,1355.7 1345.8,1295.8 1353.4,1291.4 C1361.0,1287.0 1368.7,1333.6 1376.3,1333.3 C1383.9,1333.0 1391.5,1299.1 1399.1,1289.8 C1406.7,1280.5 1414.4,1280.3 1422.0,1277.7 C1429.6,1275.1 1437.2,1273.6 1444.8,1274.4 C1452.4,1275.2 1460.1,1277.1 1467.7,1282.3 C1475.3,1287.5 1483.0,1301.6 1490.6,1305.4" fill="none" stroke="#999910" stroke-width="5.5" stroke-linecap="round"/>
<path d="M690.4,1307.3 C698.0,1303.1 705.7,1276.4 713.3,1281.9 C720.9,1287.5 728.6,1330.0 736.2,1340.6 C743.8,1351.2 751.4,1349.4 759.0,1345.4 C766.6,1341.4 774.3,1325.8 781.9,1316.8 C789.5,1307.8 797.1,1287.2 804.7,1291.4 C812.3,1295.6 820.0,1335.9 827.6,1342.2 C835.2,1348.6 842.9,1338.2 850.5,1329.5 C858.1,1320.8 865.7,1293.3 873.3,1289.8 C880.9,1286.4 888.6,1305.9 896.2,1308.8 C903.8,1311.7 911.4,1311.5 919.0,1307.3 C926.6,1303.1 934.3,1275.5 941.9,1283.4 C949.5,1291.3 957.2,1345.6 964.8,1354.9 C972.4,1364.2 980.0,1334.8 987.6,1339.0 C995.2,1343.2 1002.9,1378.7 1010.5,1380.3 C1018.1,1381.9 1025.7,1356.7 1033.3,1348.5 C1040.9,1340.3 1048.6,1333.7 1056.2,1331.1 C1063.8,1328.5 1071.5,1327.4 1079.1,1332.7 C1086.7,1338.0 1094.3,1365.7 1101.9,1362.8 C1109.5,1359.9 1117.2,1328.2 1124.8,1315.2 C1132.4,1302.2 1140.1,1282.4 1147.7,1285.0 C1155.3,1287.7 1162.9,1324.8 1170.5,1331.1 C1178.1,1337.5 1185.8,1324.7 1193.4,1323.1 C1201.0,1321.5 1208.6,1318.7 1216.2,1321.6 C1223.8,1324.5 1231.5,1340.4 1239.1,1340.6 C1246.7,1340.9 1254.4,1324.2 1262.0,1323.1 C1269.6,1322.1 1277.2,1327.7 1284.8,1334.3 C1292.4,1340.9 1300.1,1351.3 1307.7,1362.8 C1315.3,1374.3 1322.9,1409.4 1330.5,1403.3 C1338.1,1397.2 1345.8,1333.6 1353.4,1326.3 C1361.0,1319.0 1368.7,1360.5 1376.3,1359.7 C1383.9,1358.9 1391.5,1329.6 1399.1,1321.6 C1406.7,1313.7 1414.4,1317.6 1422.0,1312.0 C1429.6,1306.4 1437.2,1290.1 1444.8,1288.2 C1452.4,1286.4 1460.1,1296.8 1467.7,1300.9 C1475.3,1305.0 1483.0,1310.8 1490.6,1312.8" fill="none" stroke="#1c1870" stroke-width="5.5" stroke-linecap="round"/>
<line x1="679" y1="1181.8" x2="679" y2="1420" stroke="#1a1a50" stroke-width="2"/>
<line x1="679" y1="1420" x2="1502" y2="1420" stroke="#111" stroke-width="2"/>
<path d="M673,1197.7h6M673,1229.5h6M673,1261.2h6M673,1293h6M673,1324.7h6M673,1356.5h6M673,1388.2h6M673,1420h6" stroke="#1a1a50" stroke-width="1.5"/>
<path d="M679,1420v8M701.9,1420v8M724.7,1420v8M747.6,1420v8M770.4,1420v8M793.3,1420v8M816.2,1420v8M839,1420v8M861.9,1420v8M884.7,1420v8M907.6,1420v8M930.5,1420v8M953.3,1420v8M976.2,1420v8M999.1,1420v8M1021.9,1420v8M1044.8,1420v8M1067.6,1420v8M1090.5,1420v8M1113.4,1420v8M1136.2,1420v8M1159.1,1420v8M1181.9,1420v8M1204.8,1420v8M1227.7,1420v8M1250.5,1420v8M1273.4,1420v8M1296.3,1420v8M1319.1,1420v8M1342,1420v8M1364.8,1420v8M1387.7,1420v8M1410.6,1420v8M1433.4,1420v8M1456.3,1420v8M1479.1,1420v8M1502,1420v8" stroke="#111" stroke-width="1.5"/>
<g class="a" font-size="17" fill="#1a1a6e" text-anchor="end">
<text x="662" y="1203.7">290</text><text x="662" y="1235.5">270</text><text x="662" y="1267.2">250</text><text x="662" y="1299">230</text><text x="662" y="1330.7">210</text><text x="662" y="1362.5">190</text><text x="662" y="1394.2">170</text><text x="662" y="1426">150</text>
</g>
<g class="a" font-size="18" fill="#1a1a6e" text-anchor="middle">
<text x="690.4 713.3 736.2 759.0 781.9 804.7 827.6 850.5 873.3 896.2 919.0 941.9 964.8 987.6 1010.5 1033.3 1056.2 1079.1 1101.9 1124.8 1147.7 1170.5 1193.4 1216.2 1239.1 1262.0 1284.8 1307.7 1330.5 1353.4 1376.3 1399.1 1422.0 1444.8 1467.7 1490.6" y="1447">ONDJFMAMJJASONDJFMAMJJASONDJFMAMJJAS</text>
<text x="690.4" y="1468">10</text><text x="759" y="1468">11</text><text x="1033.3" y="1468">12</text><text x="1307.7" y="1468">13</text>
</g>

<!-- ===== CHART 3 ===== -->
<text class="s" x="776" y="1533" font-size="25" font-weight="bold" fill="#1a1466" textLength="227" lengthAdjust="spacingAndGlyphs">Total Inventory &amp;</text>
<text class="s" x="1008" y="1533" font-size="25" font-weight="bold" fill="#b22424" textLength="448" lengthAdjust="spacingAndGlyphs">Month's Supply of Inventory (MSI)</text>
<text class="a" x="766" y="1568" font-size="14" fill="#222" textLength="616" lengthAdjust="spacingAndGlyphs">MSI is the # of month's needed to sell all of the Inventory at the monthly Sales Pace</text>
<g stroke="#a6a6a6" stroke-width="1.5">
<line x1="682" y1="1815.4" x2="1487" y2="1815.4"/><line x1="682" y1="1777.4" x2="1487" y2="1777.4"/><line x1="682" y1="1739.5" x2="1487" y2="1739.5"/><line x1="682" y1="1701.5" x2="1487" y2="1701.5"/><line x1="682" y1="1663.6" x2="1487" y2="1663.6"/><line x1="682" y1="1625.6" x2="1487" y2="1625.6"/>
</g>
<line x1="682" y1="1587.7" x2="1487" y2="1587.7" stroke="#8c8c8c" stroke-width="2"/>
<g fill="url(#bl)">
<rect x="683.4" y="1648.8" width="19.5" height="204.5"/><rect x="705.8" y="1659.2" width="19.5" height="194.1"/><rect x="728.2" y="1676.1" width="19.5" height="177.2"/><rect x="750.5" y="1679" width="19.5" height="174.3"/><rect x="772.9" y="1685.2" width="19.5" height="168.1"/><rect x="795.2" y="1680.9" width="19.5" height="172.4"/><rect x="817.6" y="1656.4" width="19.5" height="196.9"/><rect x="839.9" y="1632.5" width="19.5" height="220.8"/><rect x="862.3" y="1626.2" width="19.5" height="227.1"/><rect x="884.7" y="1620.3" width="19.5" height="233"/><rect x="907" y="1631.3" width="19.5" height="222"/>
<rect x="951.8" y="1639.3" width="19.5" height="214"/><rect x="974.1" y="1656" width="19.5" height="197.3"/><rect x="996.5" y="1675" width="19.5" height="178.3"/><rect x="1018.8" y="1678" width="19.5" height="175.3"/><rect x="1041.2" y="1676.1" width="19.5" height="177.2"/><rect x="1063.6" y="1662.8" width="19.5" height="190.5"/><rect x="1085.9" y="1657.5" width="19.5" height="195.8"/><rect x="1108.3" y="1645.2" width="19.5" height="208.1"/><rect x="1130.6" y="1641.6" width="19.5" height="211.7"/><rect x="1153" y="1648.8" width="19.5" height="204.5"/><rect x="1175.4" y="1655.4" width="19.5" height="197.9"/>
<rect x="1220.1" y="1671.7" width="19.5" height="181.6"/><rect x="1242.5" y="1677.6" width="19.5" height="175.7"/><rect x="1264.8" y="1694.9" width="19.5" height="158.4"/><rect x="1287.2" y="1703" width="19.5" height="150.3"/><rect x="1309.5" y="1705.3" width="19.5" height="148"/><rect x="1331.9" y="1690.5" width="19.5" height="162.8"/><rect x="1354.3" y="1671.7" width="19.5" height="181.6"/><rect x="1376.6" y="1656.9" width="19.5" height="196.4"/><rect x="1399" y="1643.7" width="19.5" height="209.6"/><rect x="1421.3" y="1643.9" width="19.5" height="209.4"/><rect x="1443.7" y="1645.2" width="19.5" height="208.1"/>
</g>
<g fill="url(#bd)">
<rect x="929.4" y="1632.7" width="19.5" height="220.6"/><rect x="1197.7" y="1663.4" width="19.5" height="189.9"/><rect x="1466.1" y="1643.7" width="19.5" height="209.6"/>
</g>
<g class="a" font-size="17" fill="#2a2a8a" text-anchor="end">
<text transform="translate(699.2,1662.8) rotate(-90) scale(0.9,1)">1,078</text>
<text transform="translate(721.5,1673.2) rotate(-90) scale(0.9,1)">1,023</text>
<text transform="translate(743.9,1690.1) rotate(-90) scale(0.9,1)">934</text>
<text transform="translate(766.3,1693) rotate(-90) scale(0.9,1)">919</text>
<text transform="translate(788.6,1699.2) rotate(-90) scale(0.9,1)">886</text>
<text transform="translate(811,1694.9) rotate(-90) scale(0.9,1)">909</text>
<text transform="translate(833.3,1670.4) rotate(-90) scale(0.9,1)">1,038</text>
<text transform="translate(855.7,1646.5) rotate(-90) scale(0.9,1)">1,164</text>
<text transform="translate(878.1,1640.2) rotate(-90) scale(0.9,1)">1,197</text>
<text transform="translate(900.4,1634.3) rotate(-90) scale(0.9,1)">1,228</text>
<text transform="translate(922.8,1645.3) rotate(-90) scale(0.9,1)">1,170</text>
<text transform="translate(945.2,1646.7) rotate(-90) scale(0.9,1)" fill="#fff">1,163</text>
<text transform="translate(967.5,1653.3) rotate(-90) scale(0.9,1)">1,128</text>
<text transform="translate(989.9,1670) rotate(-90) scale(0.9,1)">1,040</text>
<text transform="translate(1012.2,1689) rotate(-90) scale(0.9,1)">940</text>
<text transform="translate(1034.6,1692) rotate(-90) scale(0.9,1)">924</text>
<text transform="translate(1057,1690.1) rotate(-90) scale(0.9,1)">934</text>
<text transform="translate(1079.3,1676.8) rotate(-90) scale(0.9,1)">1,004</text>
<text transform="translate(1101.7,1671.5) rotate(-90) scale(0.9,1)">1,032</text>
<text transform="translate(1124,1659.2) rotate(-90) scale(0.9,1)">1,097</text>
<text transform="translate(1146.4,1655.6) rotate(-90) scale(0.9,1)">1,116</text>
<text transform="translate(1168.8,1662.8) rotate(-90) scale(0.9,1)">1,078</text>
<text transform="translate(1191.1,1669.4) rotate(-90) scale(0.9,1)">1,043</text>
<text transform="translate(1213.5,1677.4) rotate(-90) scale(0.9,1)" fill="#fff">1,001</text>
<text transform="translate(1235.9,1685.7) rotate(-90) scale(0.9,1)">957</text>
<text transform="translate(1258.2,1691.6) rotate(-90) scale(0.9,1)">926</text>
<text transform="translate(1280.6,1708.9) rotate(-90) scale(0.9,1)">835</text>
<text transform="translate(1302.9,1717) rotate(-90) scale(0.9,1)">792</text>
<text transform="translate(1325.3,1719.3) rotate(-90) scale(0.9,1)">780</text>
<text transform="translate(1347.7,1704.5) rotate(-90) scale(0.9,1)">858</text>
<text transform="translate(1370,1685.7) rotate(-90) scale(0.9,1)">957</text>
<text transform="translate(1392.4,1670.9) rotate(-90) scale(0.9,1)">1,035</text>
<text transform="translate(1414.7,1657.7) rotate(-90) scale(0.9,1)">1,105</text>
<text transform="translate(1437.1,1657.9) rotate(-90) scale(0.9,1)">1,104</text>
<text transform="translate(1459.5,1659.2) rotate(-90) scale(0.9,1)">1,097</text>
<text transform="translate(1481.8,1657.7) rotate(-90) scale(0.9,1)" fill="#fff">1,105</text>
</g>
<path d="M693.2,1720.2 C700.7,1719.7 708.1,1712.5 715.5,1717.4 C723.0,1722.4 730.5,1765.1 737.9,1749.9 C745.4,1734.7 752.9,1637.6 760.3,1626.3 C767.8,1615.0 775.2,1667.9 782.6,1682.1 C790.1,1696.3 797.6,1712.0 805.0,1711.3 C812.5,1710.7 819.9,1677.2 827.3,1678.2 C834.8,1679.2 842.3,1709.0 849.7,1717.4 C857.2,1725.8 864.7,1726.9 872.1,1728.6 C879.5,1730.3 887.0,1724.9 894.4,1727.8 C901.9,1730.7 909.4,1743.1 916.8,1746.1 C924.3,1749.1 931.7,1755.0 939.2,1745.9 C946.7,1736.8 954.1,1694.2 961.5,1691.4 C969.0,1688.6 976.5,1723.7 983.9,1729.1 C991.4,1734.5 998.8,1731.1 1006.2,1723.6 C1013.7,1716.1 1021.2,1687.9 1028.6,1684.1 C1036.1,1680.3 1043.6,1696.1 1051.0,1700.6 C1058.5,1705.1 1065.9,1705.0 1073.3,1711.0 C1080.8,1717.0 1088.3,1729.6 1095.7,1736.7 C1103.2,1743.8 1110.6,1745.8 1118.0,1753.6 C1125.5,1761.4 1133.0,1782.3 1140.4,1783.6 C1147.9,1785.0 1155.4,1763.8 1162.8,1761.7 C1170.3,1759.6 1177.7,1771.6 1185.1,1771.2 C1192.6,1770.8 1200.1,1761.8 1207.5,1759.2 C1215.0,1756.6 1222.4,1751.4 1229.9,1755.6 C1237.4,1759.8 1244.8,1782.9 1252.2,1784.5 C1259.7,1786.1 1267.2,1774.9 1274.6,1765.4 C1282.1,1755.9 1289.5,1734.6 1296.9,1727.7 C1304.4,1720.8 1311.9,1719.0 1319.3,1723.8 C1326.8,1728.6 1334.3,1749.1 1341.7,1756.3 C1349.2,1763.5 1356.6,1764.6 1364.0,1767.1 C1371.5,1769.6 1379.0,1771.5 1386.4,1771.3 C1393.9,1771.1 1401.3,1764.0 1408.7,1765.7 C1416.2,1767.4 1423.7,1778.2 1431.1,1781.4 C1438.6,1784.6 1446.1,1788.7 1453.5,1784.8 C1461.0,1780.9 1468.4,1762.4 1475.8,1757.9" fill="none" stroke="#b22a2a" stroke-width="5"/>
<g fill="#b22a2a">
<circle cx="693.2" cy="1720.2" r="6.5"/><circle cx="715.5" cy="1717.4" r="6.5"/><circle cx="737.9" cy="1749.9" r="6.5"/><circle cx="760.3" cy="1626.3" r="6.5"/><circle cx="782.6" cy="1682.1" r="6.5"/><circle cx="805" cy="1711.3" r="6.5"/><circle cx="827.3" cy="1678.2" r="6.5"/><circle cx="849.7" cy="1717.4" r="6.5"/><circle cx="872.1" cy="1728.6" r="6.5"/><circle cx="894.4" cy="1727.8" r="6.5"/><circle cx="916.8" cy="1746.1" r="6.5"/><circle cx="939.2" cy="1745.9" r="6.5"/><circle cx="961.5" cy="1691.4" r="6.5"/><circle cx="983.9" cy="1729.1" r="6.5"/><circle cx="1006.2" cy="1723.6" r="6.5"/><circle cx="1028.6" cy="1684.1" r="6.5"/><circle cx="1051" cy="1700.6" r="6.5"/><circle cx="1073.3" cy="1711" r="6.5"/><circle cx="1095.7" cy="1736.7" r="6.5"/><circle cx="1118" cy="1753.6" r="6.5"/><circle cx="1140.4" cy="1783.6" r="6.5"/><circle cx="1162.8" cy="1761.7" r="6.5"/><circle cx="1185.1" cy="1771.2" r="6.5"/><circle cx="1207.5" cy="1759.2" r="6.5"/><circle cx="1229.9" cy="1755.6" r="6.5"/><circle cx="1252.2" cy="1784.5" r="6.5"/><circle cx="1274.6" cy="1765.4" r="6.5"/><circle cx="1296.9" cy="1727.7" r="6.5"/><circle cx="1319.3" cy="1723.8" r="6.5"/><circle cx="1341.7" cy="1756.3" r="6.5"/><circle cx="1364" cy="1767.1" r="6.5"/><circle cx="1386.4" cy="1771.3" r="6.5"/><circle cx="1408.7" cy="1765.7" r="6.5"/><circle cx="1431.1" cy="1781.4" r="6.5"/><circle cx="1453.5" cy="1784.8" r="6.5"/><circle cx="1475.8" cy="1757.9" r="6.5"/>
</g>
<line x1="682" y1="1587.7" x2="682" y2="1853.3" stroke="#1a1a50" stroke-width="2"/>
<line x1="682" y1="1853.3" x2="1487" y2="1853.3" stroke="#111" stroke-width="2"/>
<line x1="1487" y1="1587.7" x2="1487" y2="1853.3" stroke="#b22a2a" stroke-width="2"/>
<path d="M676,1587.7h6M676,1625.6h6M676,1663.6h6M676,1701.5h6M676,1739.5h6M676,1777.4h6M676,1815.4h6M676,1853.3h6" stroke="#1a1a50" stroke-width="1.5"/>
<path d="M1481,1587.7h14M1481,1640.8h14M1481,1694h14M1481,1747.1h14M1481,1800.2h14M1481,1853.3h14" stroke="#b22a2a" stroke-width="1.5"/>
<path d="M682,1853.3v8M704.4,1853.3v8M726.7,1853.3v8M749.1,1853.3v8M771.4,1853.3v8M793.8,1853.3v8M816.2,1853.3v8M838.5,1853.3v8M860.9,1853.3v8M883.2,1853.3v8M905.6,1853.3v8M928,1853.3v8M950.3,1853.3v8M972.7,1853.3v8M995.1,1853.3v8M1017.4,1853.3v8M1039.8,1853.3v8M1062.1,1853.3v8M1084.5,1853.3v8M1106.9,1853.3v8M1129.2,1853.3v8M1151.6,1853.3v8M1173.9,1853.3v8M1196.3,1853.3v8M1218.7,1853.3v8M1241,1853.3v8M1263.4,1853.3v8M1285.8,1853.3v8M1308.1,1853.3v8M1330.5,1853.3v8M1352.9,1853.3v8M1375.2,1853.3v8M1397.6,1853.3v8M1419.9,1853.3v8M1442.3,1853.3v8M1464.7,1853.3v8M1487,1853.3v8" stroke="#111" stroke-width="1.5"/>
<g class="a" font-size="17" fill="#1a1a6e" text-anchor="end">
<text x="666" y="1593.7">1,400</text><text x="666" y="1631.6">1,200</text><text x="666" y="1669.6">1,000</text><text x="666" y="1707.5">800</text><text x="666" y="1745.5">600</text><text x="666" y="1783.4">400</text><text x="666" y="1821.4">200</text><text x="666" y="1859.3">0</text>
</g>
<g class="a" font-size="17" fill="#b22424">
<text x="1500" y="1593.7">25</text><text x="1500" y="1646.8">20</text><text x="1500" y="1700">15</text><text x="1500" y="1753.1">10</text><text x="1500" y="1806.2">5</text><text x="1500" y="1859.3">0</text>
</g>
<g class="a" font-size="18" fill="#1a1a6e" text-anchor="middle">
<text x="693.2 715.5 737.9 760.3 782.6 805.0 827.3 849.7 872.1 894.4 916.8 939.2 961.5 983.9 1006.2 1028.6 1051.0 1073.3 1095.7 1118.0 1140.4 1162.8 1185.1 1207.5 1229.9 1252.2 1274.6 1296.9 1319.3 1341.7 1364.0 1386.4 1408.7 1431.1 1453.5 1475.8" y="1881">ONDJFMAMJJASONDJFMAMJJASONDJFMAMJJAS</text>
<text x="693.2" y="1902">10</text><text x="760.3" y="1902">11</text><text x="1028.6" y="1902">12</text><text x="1296.9" y="1902">13</text>
</g>
</svg>
</body></html>
